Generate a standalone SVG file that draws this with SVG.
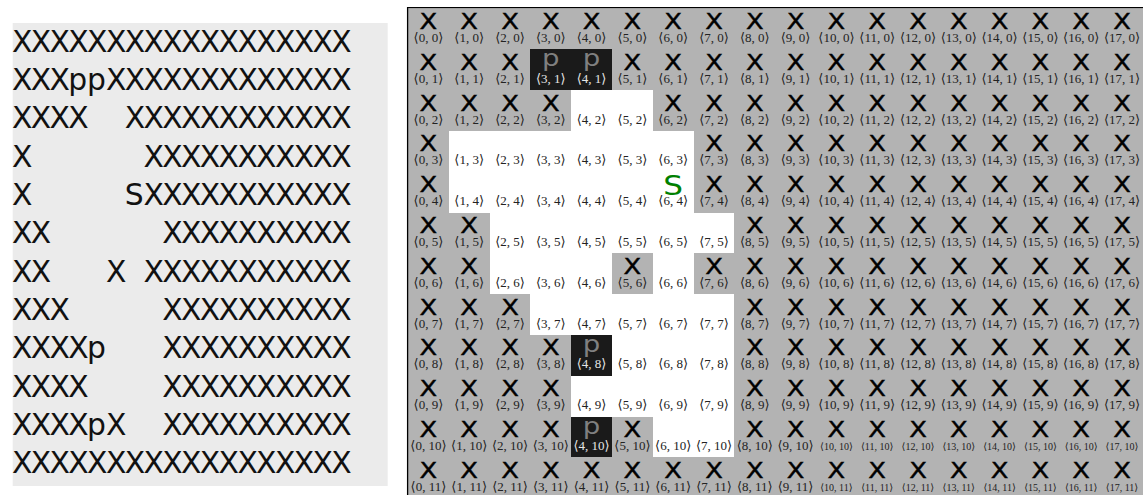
<svg xmlns="http://www.w3.org/2000/svg" width="1143" height="495" viewBox="0 0 1143 495">
<style>
.bg{fill:#ebebeb}
.gbg{fill:#b3b3b3}
.w{fill:#ffffff;width:40.8px;height:40.8px;shape-rendering:crispEdges}
.d{fill:#1a1a1a;width:40.8px;height:40.8px;shape-rendering:crispEdges}
.t{font-family:"DejaVu Sans",sans-serif;font-size:29.8px;fill:#111;white-space:pre}
.x{font-family:"DejaVu Sans",sans-serif;font-size:21.5px;fill:#000;stroke:#000;stroke-width:0.4;text-anchor:middle;transform-box:fill-box;transform-origin:center;transform:scaleX(1.2)}
.p{font-family:"DejaVu Sans",sans-serif;font-size:23px;fill:#808080;text-anchor:middle;transform-box:fill-box;transform-origin:center;transform:scaleX(1.2)}
.s{font-family:"DejaVu Sans",sans-serif;font-size:27px;fill:#008000;text-anchor:middle;transform-box:fill-box;transform-origin:center;transform:scaleX(1.15)}
.l{font-family:"Liberation Serif","DejaVu Serif",serif;font-size:13px;fill:#222;text-anchor:middle}
.sm{font-size:10px}
.ld{fill:#e6e6e6}
.frame{fill:none;stroke:#000;stroke-width:1.3}
</style>
<g id="text-map">
<rect class="bg" x="12.7" y="23" width="375" height="463"/>
<text class="t" xml:space="preserve" x="12 30.8 49.6 68.3 87.1 105.9 124.7 143.5 162.2 181 199.8 218.6 237.4 256.1 274.9 293.7 312.5 331.3" y="51.7">XXXXXXXXXXXXXXXXXX</text>
<text class="t" xml:space="preserve" x="12 30.8 49.6 68.3 87.1 105.9 124.7 143.5 162.2 181 199.8 218.6 237.4 256.1 274.9 293.7 312.5 331.3" y="90">XXXppXXXXXXXXXXXXX</text>
<text class="t" xml:space="preserve" x="12 30.8 49.6 68.3 87.1 105.9 124.7 143.5 162.2 181 199.8 218.6 237.4 256.1 274.9 293.7 312.5 331.3" y="128.4">XXXX  XXXXXXXXXXXX</text>
<text class="t" xml:space="preserve" x="12 30.8 49.6 68.3 87.1 105.9 124.7 143.5 162.2 181 199.8 218.6 237.4 256.1 274.9 293.7 312.5 331.3" y="166.7">X      XXXXXXXXXXX</text>
<text class="t" xml:space="preserve" x="12 30.8 49.6 68.3 87.1 105.9 124.7 143.5 162.2 181 199.8 218.6 237.4 256.1 274.9 293.7 312.5 331.3" y="205">X     SXXXXXXXXXXX</text>
<text class="t" xml:space="preserve" x="12 30.8 49.6 68.3 87.1 105.9 124.7 143.5 162.2 181 199.8 218.6 237.4 256.1 274.9 293.7 312.5 331.3" y="243.4">XX      XXXXXXXXXX</text>
<text class="t" xml:space="preserve" x="12 30.8 49.6 68.3 87.1 105.9 124.7 143.5 162.2 181 199.8 218.6 237.4 256.1 274.9 293.7 312.5 331.3" y="281.7">XX   X XXXXXXXXXXX</text>
<text class="t" xml:space="preserve" x="12 30.8 49.6 68.3 87.1 105.9 124.7 143.5 162.2 181 199.8 218.6 237.4 256.1 274.9 293.7 312.5 331.3" y="320">XXX     XXXXXXXXXX</text>
<text class="t" xml:space="preserve" x="12 30.8 49.6 68.3 87.1 105.9 124.7 143.5 162.2 181 199.8 218.6 237.4 256.1 274.9 293.7 312.5 331.3" y="358.3">XXXXp   XXXXXXXXXX</text>
<text class="t" xml:space="preserve" x="12 30.8 49.6 68.3 87.1 105.9 124.7 143.5 162.2 181 199.8 218.6 237.4 256.1 274.9 293.7 312.5 331.3" y="396.7">XXXX    XXXXXXXXXX</text>
<text class="t" xml:space="preserve" x="12 30.8 49.6 68.3 87.1 105.9 124.7 143.5 162.2 181 199.8 218.6 237.4 256.1 274.9 293.7 312.5 331.3" y="435">XXXXpX  XXXXXXXXXX</text>
<text class="t" xml:space="preserve" x="12 30.8 49.6 68.3 87.1 105.9 124.7 143.5 162.2 181 199.8 218.6 237.4 256.1 274.9 293.7 312.5 331.3" y="473.3">XXXXXXXXXXXXXXXXXX</text>
</g>
<g id="grid">
<rect class="gbg" x="408" y="8.5" width="735" height="487"/>
<g id="row0" transform="translate(0 8.5)">
<g id="n0-0"><text class="x" x="428.4" y="20.5">X</text><text class="l" x="428.4" y="33.5">⟨0, 0⟩</text></g>
<g id="n1-0"><text class="x" x="469.2" y="20.5">X</text><text class="l" x="469.2" y="33.5">⟨1, 0⟩</text></g>
<g id="n2-0"><text class="x" x="510" y="20.5">X</text><text class="l" x="510" y="33.5">⟨2, 0⟩</text></g>
<g id="n3-0"><text class="x" x="550.8" y="20.5">X</text><text class="l" x="550.8" y="33.5">⟨3, 0⟩</text></g>
<g id="n4-0"><text class="x" x="591.6" y="20.5">X</text><text class="l" x="591.6" y="33.5">⟨4, 0⟩</text></g>
<g id="n5-0"><text class="x" x="632.4" y="20.5">X</text><text class="l" x="632.4" y="33.5">⟨5, 0⟩</text></g>
<g id="n6-0"><text class="x" x="673.2" y="20.5">X</text><text class="l" x="673.2" y="33.5">⟨6, 0⟩</text></g>
<g id="n7-0"><text class="x" x="714" y="20.5">X</text><text class="l" x="714" y="33.5">⟨7, 0⟩</text></g>
<g id="n8-0"><text class="x" x="754.8" y="20.5">X</text><text class="l" x="754.8" y="33.5">⟨8, 0⟩</text></g>
<g id="n9-0"><text class="x" x="795.6" y="20.5">X</text><text class="l" x="795.6" y="33.5">⟨9, 0⟩</text></g>
<g id="n10-0"><text class="x" x="836.4" y="20.5">X</text><text class="l" x="836.4" y="33.5">⟨10, 0⟩</text></g>
<g id="n11-0"><text class="x" x="877.2" y="20.5">X</text><text class="l" x="877.2" y="33.5">⟨11, 0⟩</text></g>
<g id="n12-0"><text class="x" x="918" y="20.5">X</text><text class="l" x="918" y="33.5">⟨12, 0⟩</text></g>
<g id="n13-0"><text class="x" x="958.8" y="20.5">X</text><text class="l" x="958.8" y="33.5">⟨13, 0⟩</text></g>
<g id="n14-0"><text class="x" x="999.6" y="20.5">X</text><text class="l" x="999.6" y="33.5">⟨14, 0⟩</text></g>
<g id="n15-0"><text class="x" x="1040.4" y="20.5">X</text><text class="l" x="1040.4" y="33.5">⟨15, 0⟩</text></g>
<g id="n16-0"><text class="x" x="1081.2" y="20.5">X</text><text class="l" x="1081.2" y="33.5">⟨16, 0⟩</text></g>
<g id="n17-0"><text class="x" x="1122" y="20.5">X</text><text class="l" x="1122" y="33.5">⟨17, 0⟩</text></g>
</g>
<g id="row1" transform="translate(0 49.3)">
<g id="n0-1"><text class="x" x="428.4" y="20.5">X</text><text class="l" x="428.4" y="33.5">⟨0, 1⟩</text></g>
<g id="n1-1"><text class="x" x="469.2" y="20.5">X</text><text class="l" x="469.2" y="33.5">⟨1, 1⟩</text></g>
<g id="n2-1"><text class="x" x="510" y="20.5">X</text><text class="l" x="510" y="33.5">⟨2, 1⟩</text></g>
<g id="n3-1"><rect class="d" x="530.4" y="0"/><text class="p" x="550.8" y="17">p</text><text class="l ld" x="550.8" y="33.5">⟨3, 1⟩</text></g>
<g id="n4-1"><rect class="d" x="571.2" y="0"/><text class="p" x="591.6" y="17">p</text><text class="l ld" x="591.6" y="33.5">⟨4, 1⟩</text></g>
<g id="n5-1"><text class="x" x="632.4" y="20.5">X</text><text class="l" x="632.4" y="33.5">⟨5, 1⟩</text></g>
<g id="n6-1"><text class="x" x="673.2" y="20.5">X</text><text class="l" x="673.2" y="33.5">⟨6, 1⟩</text></g>
<g id="n7-1"><text class="x" x="714" y="20.5">X</text><text class="l" x="714" y="33.5">⟨7, 1⟩</text></g>
<g id="n8-1"><text class="x" x="754.8" y="20.5">X</text><text class="l" x="754.8" y="33.5">⟨8, 1⟩</text></g>
<g id="n9-1"><text class="x" x="795.6" y="20.5">X</text><text class="l" x="795.6" y="33.5">⟨9, 1⟩</text></g>
<g id="n10-1"><text class="x" x="836.4" y="20.5">X</text><text class="l" x="836.4" y="33.5">⟨10, 1⟩</text></g>
<g id="n11-1"><text class="x" x="877.2" y="20.5">X</text><text class="l" x="877.2" y="33.5">⟨11, 1⟩</text></g>
<g id="n12-1"><text class="x" x="918" y="20.5">X</text><text class="l" x="918" y="33.5">⟨12, 1⟩</text></g>
<g id="n13-1"><text class="x" x="958.8" y="20.5">X</text><text class="l" x="958.8" y="33.5">⟨13, 1⟩</text></g>
<g id="n14-1"><text class="x" x="999.6" y="20.5">X</text><text class="l" x="999.6" y="33.5">⟨14, 1⟩</text></g>
<g id="n15-1"><text class="x" x="1040.4" y="20.5">X</text><text class="l" x="1040.4" y="33.5">⟨15, 1⟩</text></g>
<g id="n16-1"><text class="x" x="1081.2" y="20.5">X</text><text class="l" x="1081.2" y="33.5">⟨16, 1⟩</text></g>
<g id="n17-1"><text class="x" x="1122" y="20.5">X</text><text class="l" x="1122" y="33.5">⟨17, 1⟩</text></g>
</g>
<g id="row2" transform="translate(0 90.1)">
<g id="n0-2"><text class="x" x="428.4" y="20.5">X</text><text class="l" x="428.4" y="33.5">⟨0, 2⟩</text></g>
<g id="n1-2"><text class="x" x="469.2" y="20.5">X</text><text class="l" x="469.2" y="33.5">⟨1, 2⟩</text></g>
<g id="n2-2"><text class="x" x="510" y="20.5">X</text><text class="l" x="510" y="33.5">⟨2, 2⟩</text></g>
<g id="n3-2"><text class="x" x="550.8" y="20.5">X</text><text class="l" x="550.8" y="33.5">⟨3, 2⟩</text></g>
<g id="n4-2"><rect class="w" x="571.2" y="0"/><text class="l" x="591.6" y="33.5">⟨4, 2⟩</text></g>
<g id="n5-2"><rect class="w" x="612" y="0"/><text class="l" x="632.4" y="33.5">⟨5, 2⟩</text></g>
<g id="n6-2"><text class="x" x="673.2" y="20.5">X</text><text class="l" x="673.2" y="33.5">⟨6, 2⟩</text></g>
<g id="n7-2"><text class="x" x="714" y="20.5">X</text><text class="l" x="714" y="33.5">⟨7, 2⟩</text></g>
<g id="n8-2"><text class="x" x="754.8" y="20.5">X</text><text class="l" x="754.8" y="33.5">⟨8, 2⟩</text></g>
<g id="n9-2"><text class="x" x="795.6" y="20.5">X</text><text class="l" x="795.6" y="33.5">⟨9, 2⟩</text></g>
<g id="n10-2"><text class="x" x="836.4" y="20.5">X</text><text class="l" x="836.4" y="33.5">⟨10, 2⟩</text></g>
<g id="n11-2"><text class="x" x="877.2" y="20.5">X</text><text class="l" x="877.2" y="33.5">⟨11, 2⟩</text></g>
<g id="n12-2"><text class="x" x="918" y="20.5">X</text><text class="l" x="918" y="33.5">⟨12, 2⟩</text></g>
<g id="n13-2"><text class="x" x="958.8" y="20.5">X</text><text class="l" x="958.8" y="33.5">⟨13, 2⟩</text></g>
<g id="n14-2"><text class="x" x="999.6" y="20.5">X</text><text class="l" x="999.6" y="33.5">⟨14, 2⟩</text></g>
<g id="n15-2"><text class="x" x="1040.4" y="20.5">X</text><text class="l" x="1040.4" y="33.5">⟨15, 2⟩</text></g>
<g id="n16-2"><text class="x" x="1081.2" y="20.5">X</text><text class="l" x="1081.2" y="33.5">⟨16, 2⟩</text></g>
<g id="n17-2"><text class="x" x="1122" y="20.5">X</text><text class="l" x="1122" y="33.5">⟨17, 2⟩</text></g>
</g>
<g id="row3" transform="translate(0 130.9)">
<g id="n0-3"><text class="x" x="428.4" y="20.5">X</text><text class="l" x="428.4" y="33.5">⟨0, 3⟩</text></g>
<g id="n1-3"><rect class="w" x="448.8" y="0"/><text class="l" x="469.2" y="33.5">⟨1, 3⟩</text></g>
<g id="n2-3"><rect class="w" x="489.6" y="0"/><text class="l" x="510" y="33.5">⟨2, 3⟩</text></g>
<g id="n3-3"><rect class="w" x="530.4" y="0"/><text class="l" x="550.8" y="33.5">⟨3, 3⟩</text></g>
<g id="n4-3"><rect class="w" x="571.2" y="0"/><text class="l" x="591.6" y="33.5">⟨4, 3⟩</text></g>
<g id="n5-3"><rect class="w" x="612" y="0"/><text class="l" x="632.4" y="33.5">⟨5, 3⟩</text></g>
<g id="n6-3"><rect class="w" x="652.8" y="0"/><text class="l" x="673.2" y="33.5">⟨6, 3⟩</text></g>
<g id="n7-3"><text class="x" x="714" y="20.5">X</text><text class="l" x="714" y="33.5">⟨7, 3⟩</text></g>
<g id="n8-3"><text class="x" x="754.8" y="20.5">X</text><text class="l" x="754.8" y="33.5">⟨8, 3⟩</text></g>
<g id="n9-3"><text class="x" x="795.6" y="20.5">X</text><text class="l" x="795.6" y="33.5">⟨9, 3⟩</text></g>
<g id="n10-3"><text class="x" x="836.4" y="20.5">X</text><text class="l" x="836.4" y="33.5">⟨10, 3⟩</text></g>
<g id="n11-3"><text class="x" x="877.2" y="20.5">X</text><text class="l" x="877.2" y="33.5">⟨11, 3⟩</text></g>
<g id="n12-3"><text class="x" x="918" y="20.5">X</text><text class="l" x="918" y="33.5">⟨12, 3⟩</text></g>
<g id="n13-3"><text class="x" x="958.8" y="20.5">X</text><text class="l" x="958.8" y="33.5">⟨13, 3⟩</text></g>
<g id="n14-3"><text class="x" x="999.6" y="20.5">X</text><text class="l" x="999.6" y="33.5">⟨14, 3⟩</text></g>
<g id="n15-3"><text class="x" x="1040.4" y="20.5">X</text><text class="l" x="1040.4" y="33.5">⟨15, 3⟩</text></g>
<g id="n16-3"><text class="x" x="1081.2" y="20.5">X</text><text class="l" x="1081.2" y="33.5">⟨16, 3⟩</text></g>
<g id="n17-3"><text class="x" x="1122" y="20.5">X</text><text class="l" x="1122" y="33.5">⟨17, 3⟩</text></g>
</g>
<g id="row4" transform="translate(0 171.7)">
<g id="n0-4"><text class="x" x="428.4" y="20.5">X</text><text class="l" x="428.4" y="33.5">⟨0, 4⟩</text></g>
<g id="n1-4"><rect class="w" x="448.8" y="0"/><text class="l" x="469.2" y="33.5">⟨1, 4⟩</text></g>
<g id="n2-4"><rect class="w" x="489.6" y="0"/><text class="l" x="510" y="33.5">⟨2, 4⟩</text></g>
<g id="n3-4"><rect class="w" x="530.4" y="0"/><text class="l" x="550.8" y="33.5">⟨3, 4⟩</text></g>
<g id="n4-4"><rect class="w" x="571.2" y="0"/><text class="l" x="591.6" y="33.5">⟨4, 4⟩</text></g>
<g id="n5-4"><rect class="w" x="612" y="0"/><text class="l" x="632.4" y="33.5">⟨5, 4⟩</text></g>
<g id="n6-4"><rect class="w" x="652.8" y="0"/><text class="s" x="673.2" y="23.5">S</text><text class="l" x="673.2" y="33.5">⟨6, 4⟩</text></g>
<g id="n7-4"><text class="x" x="714" y="20.5">X</text><text class="l" x="714" y="33.5">⟨7, 4⟩</text></g>
<g id="n8-4"><text class="x" x="754.8" y="20.5">X</text><text class="l" x="754.8" y="33.5">⟨8, 4⟩</text></g>
<g id="n9-4"><text class="x" x="795.6" y="20.5">X</text><text class="l" x="795.6" y="33.5">⟨9, 4⟩</text></g>
<g id="n10-4"><text class="x" x="836.4" y="20.5">X</text><text class="l" x="836.4" y="33.5">⟨10, 4⟩</text></g>
<g id="n11-4"><text class="x" x="877.2" y="20.5">X</text><text class="l" x="877.2" y="33.5">⟨11, 4⟩</text></g>
<g id="n12-4"><text class="x" x="918" y="20.5">X</text><text class="l" x="918" y="33.5">⟨12, 4⟩</text></g>
<g id="n13-4"><text class="x" x="958.8" y="20.5">X</text><text class="l" x="958.8" y="33.5">⟨13, 4⟩</text></g>
<g id="n14-4"><text class="x" x="999.6" y="20.5">X</text><text class="l" x="999.6" y="33.5">⟨14, 4⟩</text></g>
<g id="n15-4"><text class="x" x="1040.4" y="20.5">X</text><text class="l" x="1040.4" y="33.5">⟨15, 4⟩</text></g>
<g id="n16-4"><text class="x" x="1081.2" y="20.5">X</text><text class="l" x="1081.2" y="33.5">⟨16, 4⟩</text></g>
<g id="n17-4"><text class="x" x="1122" y="20.5">X</text><text class="l" x="1122" y="33.5">⟨17, 4⟩</text></g>
</g>
<g id="row5" transform="translate(0 212.5)">
<g id="n0-5"><text class="x" x="428.4" y="20.5">X</text><text class="l" x="428.4" y="33.5">⟨0, 5⟩</text></g>
<g id="n1-5"><text class="x" x="469.2" y="20.5">X</text><text class="l" x="469.2" y="33.5">⟨1, 5⟩</text></g>
<g id="n2-5"><rect class="w" x="489.6" y="0"/><text class="l" x="510" y="33.5">⟨2, 5⟩</text></g>
<g id="n3-5"><rect class="w" x="530.4" y="0"/><text class="l" x="550.8" y="33.5">⟨3, 5⟩</text></g>
<g id="n4-5"><rect class="w" x="571.2" y="0"/><text class="l" x="591.6" y="33.5">⟨4, 5⟩</text></g>
<g id="n5-5"><rect class="w" x="612" y="0"/><text class="l" x="632.4" y="33.5">⟨5, 5⟩</text></g>
<g id="n6-5"><rect class="w" x="652.8" y="0"/><text class="l" x="673.2" y="33.5">⟨6, 5⟩</text></g>
<g id="n7-5"><rect class="w" x="693.6" y="0"/><text class="l" x="714" y="33.5">⟨7, 5⟩</text></g>
<g id="n8-5"><text class="x" x="754.8" y="20.5">X</text><text class="l" x="754.8" y="33.5">⟨8, 5⟩</text></g>
<g id="n9-5"><text class="x" x="795.6" y="20.5">X</text><text class="l" x="795.6" y="33.5">⟨9, 5⟩</text></g>
<g id="n10-5"><text class="x" x="836.4" y="20.5">X</text><text class="l" x="836.4" y="33.5">⟨10, 5⟩</text></g>
<g id="n11-5"><text class="x" x="877.2" y="20.5">X</text><text class="l" x="877.2" y="33.5">⟨11, 5⟩</text></g>
<g id="n12-5"><text class="x" x="918" y="20.5">X</text><text class="l" x="918" y="33.5">⟨12, 5⟩</text></g>
<g id="n13-5"><text class="x" x="958.8" y="20.5">X</text><text class="l" x="958.8" y="33.5">⟨13, 5⟩</text></g>
<g id="n14-5"><text class="x" x="999.6" y="20.5">X</text><text class="l" x="999.6" y="33.5">⟨14, 5⟩</text></g>
<g id="n15-5"><text class="x" x="1040.4" y="20.5">X</text><text class="l" x="1040.4" y="33.5">⟨15, 5⟩</text></g>
<g id="n16-5"><text class="x" x="1081.2" y="20.5">X</text><text class="l" x="1081.2" y="33.5">⟨16, 5⟩</text></g>
<g id="n17-5"><text class="x" x="1122" y="20.5">X</text><text class="l" x="1122" y="33.5">⟨17, 5⟩</text></g>
</g>
<g id="row6" transform="translate(0 253.3)">
<g id="n0-6"><text class="x" x="428.4" y="20.5">X</text><text class="l" x="428.4" y="33.5">⟨0, 6⟩</text></g>
<g id="n1-6"><text class="x" x="469.2" y="20.5">X</text><text class="l" x="469.2" y="33.5">⟨1, 6⟩</text></g>
<g id="n2-6"><rect class="w" x="489.6" y="0"/><text class="l" x="510" y="33.5">⟨2, 6⟩</text></g>
<g id="n3-6"><rect class="w" x="530.4" y="0"/><text class="l" x="550.8" y="33.5">⟨3, 6⟩</text></g>
<g id="n4-6"><rect class="w" x="571.2" y="0"/><text class="l" x="591.6" y="33.5">⟨4, 6⟩</text></g>
<g id="n5-6"><text class="x" x="632.4" y="20.5">X</text><text class="l" x="632.4" y="33.5">⟨5, 6⟩</text></g>
<g id="n6-6"><rect class="w" x="652.8" y="0"/><text class="l" x="673.2" y="33.5">⟨6, 6⟩</text></g>
<g id="n7-6"><text class="x" x="714" y="20.5">X</text><text class="l" x="714" y="33.5">⟨7, 6⟩</text></g>
<g id="n8-6"><text class="x" x="754.8" y="20.5">X</text><text class="l" x="754.8" y="33.5">⟨8, 6⟩</text></g>
<g id="n9-6"><text class="x" x="795.6" y="20.5">X</text><text class="l" x="795.6" y="33.5">⟨9, 6⟩</text></g>
<g id="n10-6"><text class="x" x="836.4" y="20.5">X</text><text class="l" x="836.4" y="33.5">⟨10, 6⟩</text></g>
<g id="n11-6"><text class="x" x="877.2" y="20.5">X</text><text class="l" x="877.2" y="33.5">⟨11, 6⟩</text></g>
<g id="n12-6"><text class="x" x="918" y="20.5">X</text><text class="l" x="918" y="33.5">⟨12, 6⟩</text></g>
<g id="n13-6"><text class="x" x="958.8" y="20.5">X</text><text class="l" x="958.8" y="33.5">⟨13, 6⟩</text></g>
<g id="n14-6"><text class="x" x="999.6" y="20.5">X</text><text class="l" x="999.6" y="33.5">⟨14, 6⟩</text></g>
<g id="n15-6"><text class="x" x="1040.4" y="20.5">X</text><text class="l" x="1040.4" y="33.5">⟨15, 6⟩</text></g>
<g id="n16-6"><text class="x" x="1081.2" y="20.5">X</text><text class="l" x="1081.2" y="33.5">⟨16, 6⟩</text></g>
<g id="n17-6"><text class="x" x="1122" y="20.5">X</text><text class="l" x="1122" y="33.5">⟨17, 6⟩</text></g>
</g>
<g id="row7" transform="translate(0 294.1)">
<g id="n0-7"><text class="x" x="428.4" y="20.5">X</text><text class="l" x="428.4" y="33.5">⟨0, 7⟩</text></g>
<g id="n1-7"><text class="x" x="469.2" y="20.5">X</text><text class="l" x="469.2" y="33.5">⟨1, 7⟩</text></g>
<g id="n2-7"><text class="x" x="510" y="20.5">X</text><text class="l" x="510" y="33.5">⟨2, 7⟩</text></g>
<g id="n3-7"><rect class="w" x="530.4" y="0"/><text class="l" x="550.8" y="33.5">⟨3, 7⟩</text></g>
<g id="n4-7"><rect class="w" x="571.2" y="0"/><text class="l" x="591.6" y="33.5">⟨4, 7⟩</text></g>
<g id="n5-7"><rect class="w" x="612" y="0"/><text class="l" x="632.4" y="33.5">⟨5, 7⟩</text></g>
<g id="n6-7"><rect class="w" x="652.8" y="0"/><text class="l" x="673.2" y="33.5">⟨6, 7⟩</text></g>
<g id="n7-7"><rect class="w" x="693.6" y="0"/><text class="l" x="714" y="33.5">⟨7, 7⟩</text></g>
<g id="n8-7"><text class="x" x="754.8" y="20.5">X</text><text class="l" x="754.8" y="33.5">⟨8, 7⟩</text></g>
<g id="n9-7"><text class="x" x="795.6" y="20.5">X</text><text class="l" x="795.6" y="33.5">⟨9, 7⟩</text></g>
<g id="n10-7"><text class="x" x="836.4" y="20.5">X</text><text class="l" x="836.4" y="33.5">⟨10, 7⟩</text></g>
<g id="n11-7"><text class="x" x="877.2" y="20.5">X</text><text class="l" x="877.2" y="33.5">⟨11, 7⟩</text></g>
<g id="n12-7"><text class="x" x="918" y="20.5">X</text><text class="l" x="918" y="33.5">⟨12, 7⟩</text></g>
<g id="n13-7"><text class="x" x="958.8" y="20.5">X</text><text class="l" x="958.8" y="33.5">⟨13, 7⟩</text></g>
<g id="n14-7"><text class="x" x="999.6" y="20.5">X</text><text class="l" x="999.6" y="33.5">⟨14, 7⟩</text></g>
<g id="n15-7"><text class="x" x="1040.4" y="20.5">X</text><text class="l" x="1040.4" y="33.5">⟨15, 7⟩</text></g>
<g id="n16-7"><text class="x" x="1081.2" y="20.5">X</text><text class="l" x="1081.2" y="33.5">⟨16, 7⟩</text></g>
<g id="n17-7"><text class="x" x="1122" y="20.5">X</text><text class="l" x="1122" y="33.5">⟨17, 7⟩</text></g>
</g>
<g id="row8" transform="translate(0 334.9)">
<g id="n0-8"><text class="x" x="428.4" y="20.5">X</text><text class="l" x="428.4" y="33.5">⟨0, 8⟩</text></g>
<g id="n1-8"><text class="x" x="469.2" y="20.5">X</text><text class="l" x="469.2" y="33.5">⟨1, 8⟩</text></g>
<g id="n2-8"><text class="x" x="510" y="20.5">X</text><text class="l" x="510" y="33.5">⟨2, 8⟩</text></g>
<g id="n3-8"><text class="x" x="550.8" y="20.5">X</text><text class="l" x="550.8" y="33.5">⟨3, 8⟩</text></g>
<g id="n4-8"><rect class="d" x="571.2" y="0"/><text class="p" x="591.6" y="17">p</text><text class="l ld" x="591.6" y="33.5">⟨4, 8⟩</text></g>
<g id="n5-8"><rect class="w" x="612" y="0"/><text class="l" x="632.4" y="33.5">⟨5, 8⟩</text></g>
<g id="n6-8"><rect class="w" x="652.8" y="0"/><text class="l" x="673.2" y="33.5">⟨6, 8⟩</text></g>
<g id="n7-8"><rect class="w" x="693.6" y="0"/><text class="l" x="714" y="33.5">⟨7, 8⟩</text></g>
<g id="n8-8"><text class="x" x="754.8" y="20.5">X</text><text class="l" x="754.8" y="33.5">⟨8, 8⟩</text></g>
<g id="n9-8"><text class="x" x="795.6" y="20.5">X</text><text class="l" x="795.6" y="33.5">⟨9, 8⟩</text></g>
<g id="n10-8"><text class="x" x="836.4" y="20.5">X</text><text class="l" x="836.4" y="33.5">⟨10, 8⟩</text></g>
<g id="n11-8"><text class="x" x="877.2" y="20.5">X</text><text class="l" x="877.2" y="33.5">⟨11, 8⟩</text></g>
<g id="n12-8"><text class="x" x="918" y="20.5">X</text><text class="l" x="918" y="33.5">⟨12, 8⟩</text></g>
<g id="n13-8"><text class="x" x="958.8" y="20.5">X</text><text class="l" x="958.8" y="33.5">⟨13, 8⟩</text></g>
<g id="n14-8"><text class="x" x="999.6" y="20.5">X</text><text class="l" x="999.6" y="33.5">⟨14, 8⟩</text></g>
<g id="n15-8"><text class="x" x="1040.4" y="20.5">X</text><text class="l" x="1040.4" y="33.5">⟨15, 8⟩</text></g>
<g id="n16-8"><text class="x" x="1081.2" y="20.5">X</text><text class="l" x="1081.2" y="33.5">⟨16, 8⟩</text></g>
<g id="n17-8"><text class="x" x="1122" y="20.5">X</text><text class="l" x="1122" y="33.5">⟨17, 8⟩</text></g>
</g>
<g id="row9" transform="translate(0 375.7)">
<g id="n0-9"><text class="x" x="428.4" y="20.5">X</text><text class="l" x="428.4" y="33.5">⟨0, 9⟩</text></g>
<g id="n1-9"><text class="x" x="469.2" y="20.5">X</text><text class="l" x="469.2" y="33.5">⟨1, 9⟩</text></g>
<g id="n2-9"><text class="x" x="510" y="20.5">X</text><text class="l" x="510" y="33.5">⟨2, 9⟩</text></g>
<g id="n3-9"><text class="x" x="550.8" y="20.5">X</text><text class="l" x="550.8" y="33.5">⟨3, 9⟩</text></g>
<g id="n4-9"><rect class="w" x="571.2" y="0"/><text class="l" x="591.6" y="33.5">⟨4, 9⟩</text></g>
<g id="n5-9"><rect class="w" x="612" y="0"/><text class="l" x="632.4" y="33.5">⟨5, 9⟩</text></g>
<g id="n6-9"><rect class="w" x="652.8" y="0"/><text class="l" x="673.2" y="33.5">⟨6, 9⟩</text></g>
<g id="n7-9"><rect class="w" x="693.6" y="0"/><text class="l" x="714" y="33.5">⟨7, 9⟩</text></g>
<g id="n8-9"><text class="x" x="754.8" y="20.5">X</text><text class="l" x="754.8" y="33.5">⟨8, 9⟩</text></g>
<g id="n9-9"><text class="x" x="795.6" y="20.5">X</text><text class="l" x="795.6" y="33.5">⟨9, 9⟩</text></g>
<g id="n10-9"><text class="x" x="836.4" y="20.5">X</text><text class="l" x="836.4" y="33.5">⟨10, 9⟩</text></g>
<g id="n11-9"><text class="x" x="877.2" y="20.5">X</text><text class="l" x="877.2" y="33.5">⟨11, 9⟩</text></g>
<g id="n12-9"><text class="x" x="918" y="20.5">X</text><text class="l" x="918" y="33.5">⟨12, 9⟩</text></g>
<g id="n13-9"><text class="x" x="958.8" y="20.5">X</text><text class="l" x="958.8" y="33.5">⟨13, 9⟩</text></g>
<g id="n14-9"><text class="x" x="999.6" y="20.5">X</text><text class="l" x="999.6" y="33.5">⟨14, 9⟩</text></g>
<g id="n15-9"><text class="x" x="1040.4" y="20.5">X</text><text class="l" x="1040.4" y="33.5">⟨15, 9⟩</text></g>
<g id="n16-9"><text class="x" x="1081.2" y="20.5">X</text><text class="l" x="1081.2" y="33.5">⟨16, 9⟩</text></g>
<g id="n17-9"><text class="x" x="1122" y="20.5">X</text><text class="l" x="1122" y="33.5">⟨17, 9⟩</text></g>
</g>
<g id="row10" transform="translate(0 416.5)">
<g id="n0-10"><text class="x" x="428.4" y="20.5">X</text><text class="l" x="428.4" y="33.5">⟨0, 10⟩</text></g>
<g id="n1-10"><text class="x" x="469.2" y="20.5">X</text><text class="l" x="469.2" y="33.5">⟨1, 10⟩</text></g>
<g id="n2-10"><text class="x" x="510" y="20.5">X</text><text class="l" x="510" y="33.5">⟨2, 10⟩</text></g>
<g id="n3-10"><text class="x" x="550.8" y="20.5">X</text><text class="l" x="550.8" y="33.5">⟨3, 10⟩</text></g>
<g id="n4-10"><rect class="d" x="571.2" y="0"/><text class="p" x="591.6" y="17">p</text><text class="l ld" x="591.6" y="33.5">⟨4, 10⟩</text></g>
<g id="n5-10"><text class="x" x="632.4" y="20.5">X</text><text class="l" x="632.4" y="33.5">⟨5, 10⟩</text></g>
<g id="n6-10"><rect class="w" x="652.8" y="0"/><text class="l" x="673.2" y="33.5">⟨6, 10⟩</text></g>
<g id="n7-10"><rect class="w" x="693.6" y="0"/><text class="l" x="714" y="33.5">⟨7, 10⟩</text></g>
<g id="n8-10"><text class="x" x="754.8" y="20.5">X</text><text class="l" x="754.8" y="33.5">⟨8, 10⟩</text></g>
<g id="n9-10"><text class="x" x="795.6" y="20.5">X</text><text class="l" x="795.6" y="33.5">⟨9, 10⟩</text></g>
<g id="n10-10"><text class="x" x="836.4" y="20.5">X</text><text class="l sm" x="836.4" y="33.5">⟨10, 10⟩</text></g>
<g id="n11-10"><text class="x" x="877.2" y="20.5">X</text><text class="l sm" x="877.2" y="33.5">⟨11, 10⟩</text></g>
<g id="n12-10"><text class="x" x="918" y="20.5">X</text><text class="l sm" x="918" y="33.5">⟨12, 10⟩</text></g>
<g id="n13-10"><text class="x" x="958.8" y="20.5">X</text><text class="l sm" x="958.8" y="33.5">⟨13, 10⟩</text></g>
<g id="n14-10"><text class="x" x="999.6" y="20.5">X</text><text class="l sm" x="999.6" y="33.5">⟨14, 10⟩</text></g>
<g id="n15-10"><text class="x" x="1040.4" y="20.5">X</text><text class="l sm" x="1040.4" y="33.5">⟨15, 10⟩</text></g>
<g id="n16-10"><text class="x" x="1081.2" y="20.5">X</text><text class="l sm" x="1081.2" y="33.5">⟨16, 10⟩</text></g>
<g id="n17-10"><text class="x" x="1122" y="20.5">X</text><text class="l sm" x="1122" y="33.5">⟨17, 10⟩</text></g>
</g>
<g id="row11" transform="translate(0 457.3)">
<g id="n0-11"><text class="x" x="428.4" y="20.5">X</text><text class="l" x="428.4" y="33.5">⟨0, 11⟩</text></g>
<g id="n1-11"><text class="x" x="469.2" y="20.5">X</text><text class="l" x="469.2" y="33.5">⟨1, 11⟩</text></g>
<g id="n2-11"><text class="x" x="510" y="20.5">X</text><text class="l" x="510" y="33.5">⟨2, 11⟩</text></g>
<g id="n3-11"><text class="x" x="550.8" y="20.5">X</text><text class="l" x="550.8" y="33.5">⟨3, 11⟩</text></g>
<g id="n4-11"><text class="x" x="591.6" y="20.5">X</text><text class="l" x="591.6" y="33.5">⟨4, 11⟩</text></g>
<g id="n5-11"><text class="x" x="632.4" y="20.5">X</text><text class="l" x="632.4" y="33.5">⟨5, 11⟩</text></g>
<g id="n6-11"><text class="x" x="673.2" y="20.5">X</text><text class="l" x="673.2" y="33.5">⟨6, 11⟩</text></g>
<g id="n7-11"><text class="x" x="714" y="20.5">X</text><text class="l" x="714" y="33.5">⟨7, 11⟩</text></g>
<g id="n8-11"><text class="x" x="754.8" y="20.5">X</text><text class="l" x="754.8" y="33.5">⟨8, 11⟩</text></g>
<g id="n9-11"><text class="x" x="795.6" y="20.5">X</text><text class="l" x="795.6" y="33.5">⟨9, 11⟩</text></g>
<g id="n10-11"><text class="x" x="836.4" y="20.5">X</text><text class="l sm" x="836.4" y="33.5">⟨10, 11⟩</text></g>
<g id="n11-11"><text class="x" x="877.2" y="20.5">X</text><text class="l sm" x="877.2" y="33.5">⟨11, 11⟩</text></g>
<g id="n12-11"><text class="x" x="918" y="20.5">X</text><text class="l sm" x="918" y="33.5">⟨12, 11⟩</text></g>
<g id="n13-11"><text class="x" x="958.8" y="20.5">X</text><text class="l sm" x="958.8" y="33.5">⟨13, 11⟩</text></g>
<g id="n14-11"><text class="x" x="999.6" y="20.5">X</text><text class="l sm" x="999.6" y="33.5">⟨14, 11⟩</text></g>
<g id="n15-11"><text class="x" x="1040.4" y="20.5">X</text><text class="l sm" x="1040.4" y="33.5">⟨15, 11⟩</text></g>
<g id="n16-11"><text class="x" x="1081.2" y="20.5">X</text><text class="l sm" x="1081.2" y="33.5">⟨16, 11⟩</text></g>
<g id="n17-11"><text class="x" x="1122" y="20.5">X</text><text class="l sm" x="1122" y="33.5">⟨17, 11⟩</text></g>
</g>
<path class="frame" d="M407.6 495 V7.6 H1143"/>
</g>
</svg>
